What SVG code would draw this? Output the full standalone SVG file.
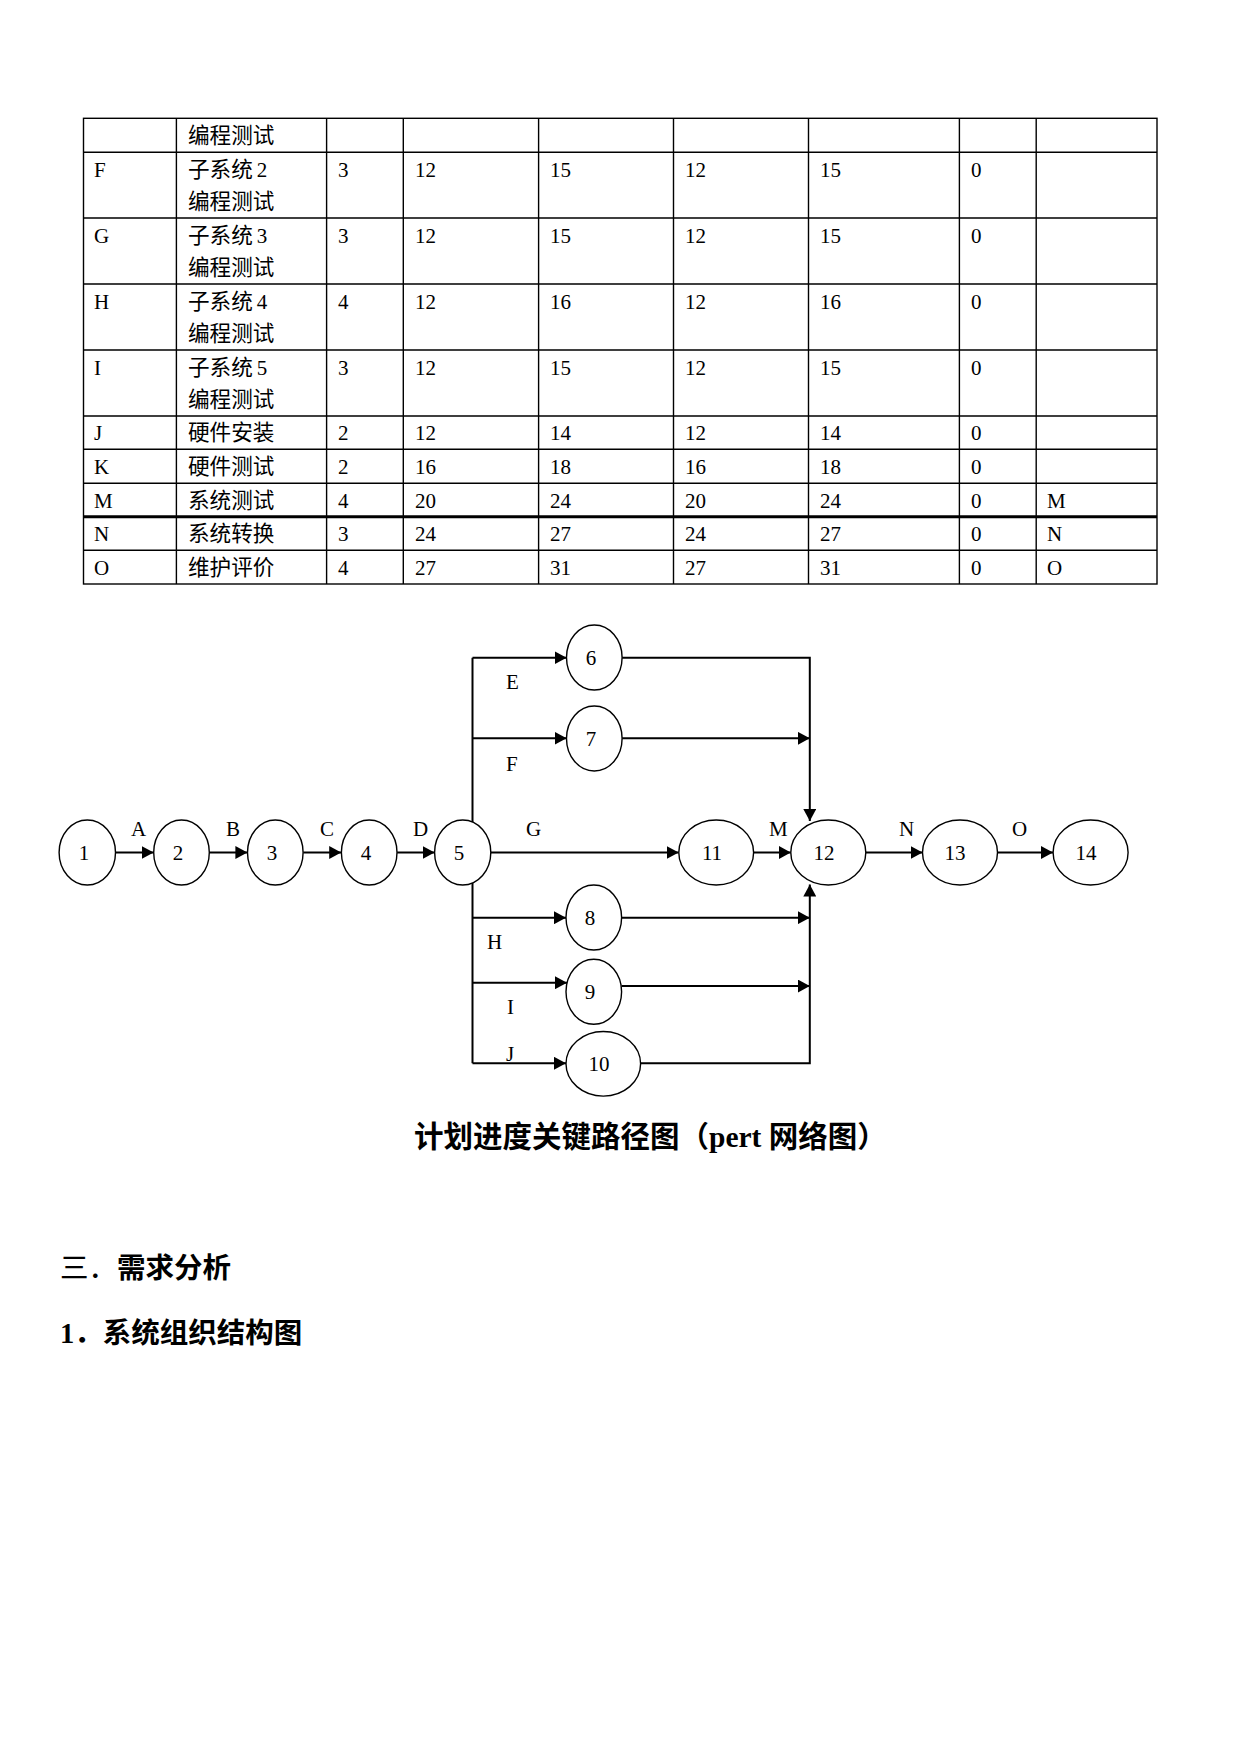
<svg xmlns="http://www.w3.org/2000/svg" width="1241" height="1754" viewBox="0 0 1241 1754">
<style>
text{font-family:"Liberation Serif","Noto Sans CJK SC",serif;fill:#000}
.t{font-size:21px}
.c{font-size:21.6px}
.tl{stroke:#000;stroke-width:1.4;fill:none}
.tk{stroke:#000;stroke-width:3;fill:none}
.nd ellipse{fill:#fff;stroke:#000;stroke-width:1.4}
.nd text{font-size:21px;text-anchor:middle}
.lb{font-size:21px}
.cn path{stroke:#000;stroke-width:2;fill:none}
.ar{marker-end:url(#ah)}
.h{font-size:28.5px}
</style>
<defs>
<marker id="ah" markerUnits="userSpaceOnUse" markerWidth="13" markerHeight="13" refX="12" refY="6.5" orient="auto">
<path d="M0,0 L12,6.5 L0,13 z" fill="#000"/>
</marker>
</defs>
<rect width="1241" height="1754" fill="#fff"/>

<g id="table">
<rect class="tl" x="83.5" y="118.3" width="1073.5" height="465.7"/>
<path class="tl" d="M176.4,118.3V584 M326.6,118.3V584 M403.3,118.3V584 M538.6,118.3V584 M673.5,118.3V584 M808.5,118.3V584 M959.4,118.3V584 M1036.2,118.3V584"/>
<path class="tl" d="M83.5,152.3H1157 M83.5,218H1157 M83.5,284H1157 M83.5,350H1157 M83.5,416H1157 M83.5,449.3H1157 M83.5,483.3H1157 M83.5,550.3H1157"/>
<path class="tk" d="M83.5,516.7H1157"/>
<g class="t">
<text class="c" x="188" y="143">编程测试</text>

<text x="94" y="177">F</text><text class="c" x="188" y="177">子系统<tspan dx="4" font-size="21">2</tspan></text><text class="c" x="188" y="209">编程测试</text>
<text x="338" y="177">3</text><text x="415" y="177">12</text><text x="550" y="177">15</text><text x="685" y="177">12</text><text x="820" y="177">15</text><text x="971" y="177">0</text>

<text x="94" y="243">G</text><text class="c" x="188" y="243">子系统<tspan dx="4" font-size="21">3</tspan></text><text class="c" x="188" y="275">编程测试</text>
<text x="338" y="243">3</text><text x="415" y="243">12</text><text x="550" y="243">15</text><text x="685" y="243">12</text><text x="820" y="243">15</text><text x="971" y="243">0</text>

<text x="94" y="309">H</text><text class="c" x="188" y="309">子系统<tspan dx="4" font-size="21">4</tspan></text><text class="c" x="188" y="341">编程测试</text>
<text x="338" y="309">4</text><text x="415" y="309">12</text><text x="550" y="309">16</text><text x="685" y="309">12</text><text x="820" y="309">16</text><text x="971" y="309">0</text>

<text x="94" y="375">I</text><text class="c" x="188" y="375">子系统<tspan dx="4" font-size="21">5</tspan></text><text class="c" x="188" y="407">编程测试</text>
<text x="338" y="375">3</text><text x="415" y="375">12</text><text x="550" y="375">15</text><text x="685" y="375">12</text><text x="820" y="375">15</text><text x="971" y="375">0</text>

<text x="94" y="440">J</text><text class="c" x="188" y="440">硬件安装</text>
<text x="338" y="440">2</text><text x="415" y="440">12</text><text x="550" y="440">14</text><text x="685" y="440">12</text><text x="820" y="440">14</text><text x="971" y="440">0</text>

<text x="94" y="474">K</text><text class="c" x="188" y="474">硬件测试</text>
<text x="338" y="474">2</text><text x="415" y="474">16</text><text x="550" y="474">18</text><text x="685" y="474">16</text><text x="820" y="474">18</text><text x="971" y="474">0</text>

<text x="94" y="507.5">M</text><text class="c" x="188" y="507.5">系统测试</text>
<text x="338" y="507.5">4</text><text x="415" y="507.5">20</text><text x="550" y="507.5">24</text><text x="685" y="507.5">20</text><text x="820" y="507.5">24</text><text x="971" y="507.5">0</text><text x="1047" y="507.5">M</text>

<text x="94" y="541">N</text><text class="c" x="188" y="541">系统转换</text>
<text x="338" y="541">3</text><text x="415" y="541">24</text><text x="550" y="541">27</text><text x="685" y="541">24</text><text x="820" y="541">27</text><text x="971" y="541">0</text><text x="1047" y="541">N</text>

<text x="94" y="575">O</text><text class="c" x="188" y="575">维护评价</text>
<text x="338" y="575">4</text><text x="415" y="575">27</text><text x="550" y="575">31</text><text x="685" y="575">27</text><text x="820" y="575">31</text><text x="971" y="575">0</text><text x="1047" y="575">O</text>
</g>
</g>

<g id="connectors" class="cn">
<path class="ar" d="M115.4,852.5H153.7"/>
<path class="ar" d="M209.2,852.5H247.4"/>
<path class="ar" d="M303.3,852.5H341.2"/>
<path class="ar" d="M397.1,852.5H434.6"/>
<path class="ar" d="M490.8,852.5H678.7"/>
<path class="ar" d="M753.6,852.5H790.8"/>
<path class="ar" d="M865.7,852.5H922.6"/>
<path class="ar" d="M997.5,852.5H1053"/>
<path d="M472.5,657.7V822 M472.5,883V1063.3"/>
<path class="ar" d="M472.5,657.7H566.6"/>
<path class="ar" d="M472.5,738.3H566.6"/>
<path class="ar" d="M472.5,917.7H566"/>
<path class="ar" d="M472.5,982.7H567"/>
<path class="ar" d="M472.5,1063.3H566"/>
<path class="ar" d="M622.1,657.7H809.8V821"/>
<path class="ar" d="M622.1,738.3H809.8"/>
<path class="ar" d="M621.7,917.7H809.8"/>
<path class="ar" d="M621.7,986H809.8"/>
<path class="ar" d="M640.7,1063.3H809.8V884.5"/>
</g>

<g id="edge-labels" class="lb">
<text x="131" y="836">A</text>
<text x="226" y="836">B</text>
<text x="320" y="836">C</text>
<text x="413" y="836">D</text>
<text x="526" y="836">G</text>
<text x="769" y="836">M</text>
<text x="899" y="836">N</text>
<text x="1012" y="836">O</text>
<text x="506" y="689">E</text>
<text x="506" y="771">F</text>
<text x="487" y="949">H</text>
<text x="507" y="1014">I</text>
<text x="506" y="1061">J</text>
</g>

<g id="n1" class="nd"><ellipse cx="87.3" cy="852.5" rx="28.2" ry="32.5"/><text x="84" y="860">1</text></g>
<g id="n2" class="nd"><ellipse cx="181.5" cy="852.5" rx="27.8" ry="32.5"/><text x="178" y="860">2</text></g>
<g id="n3" class="nd"><ellipse cx="275.3" cy="852.5" rx="27.8" ry="32.5"/><text x="272" y="860">3</text></g>
<g id="n4" class="nd"><ellipse cx="369.2" cy="852.5" rx="27.8" ry="32.5"/><text x="366" y="860">4</text></g>
<g id="n5" class="nd"><ellipse cx="462.7" cy="852.5" rx="28.1" ry="32.5"/><text x="459" y="860">5</text></g>
<g id="n6" class="nd"><ellipse cx="594.3" cy="657.5" rx="27.8" ry="32.5"/><text x="591" y="665">6</text></g>
<g id="n7" class="nd"><ellipse cx="594.3" cy="738.5" rx="27.8" ry="32.5"/><text x="591" y="746">7</text></g>
<g id="n8" class="nd"><ellipse cx="593.8" cy="917.5" rx="27.8" ry="32.5"/><text x="590" y="925">8</text></g>
<g id="n9" class="nd"><ellipse cx="593.8" cy="991.8" rx="27.8" ry="32.5"/><text x="590" y="999">9</text></g>
<g id="n10" class="nd"><ellipse cx="603.3" cy="1063.8" rx="37.3" ry="32.3"/><text x="599" y="1071">10</text></g>
<g id="n11" class="nd"><ellipse cx="716.2" cy="852.5" rx="37.4" ry="32.5"/><text x="712" y="860">11</text></g>
<g id="n12" class="nd"><ellipse cx="828.3" cy="852.5" rx="37.5" ry="32.5"/><text x="824" y="860">12</text></g>
<g id="n13" class="nd"><ellipse cx="960" cy="852.5" rx="37.5" ry="32.5"/><text x="955" y="860">13</text></g>
<g id="n14" class="nd"><ellipse cx="1090.6" cy="852.5" rx="37.5" ry="32.5"/><text x="1086" y="860">14</text></g>

<g id="caption">
<text x="414" y="1147" font-size="29.5" font-weight="bold">计划进度关键路径图（pert 网络图）</text>
</g>

<g id="headings">
<text class="h" x="60" y="1278">三．<tspan font-weight="bold">需求分析</tspan></text>
<text class="h" x="60" y="1343" font-weight="bold">1．系统组织结构图</text>
</g>
</svg>
